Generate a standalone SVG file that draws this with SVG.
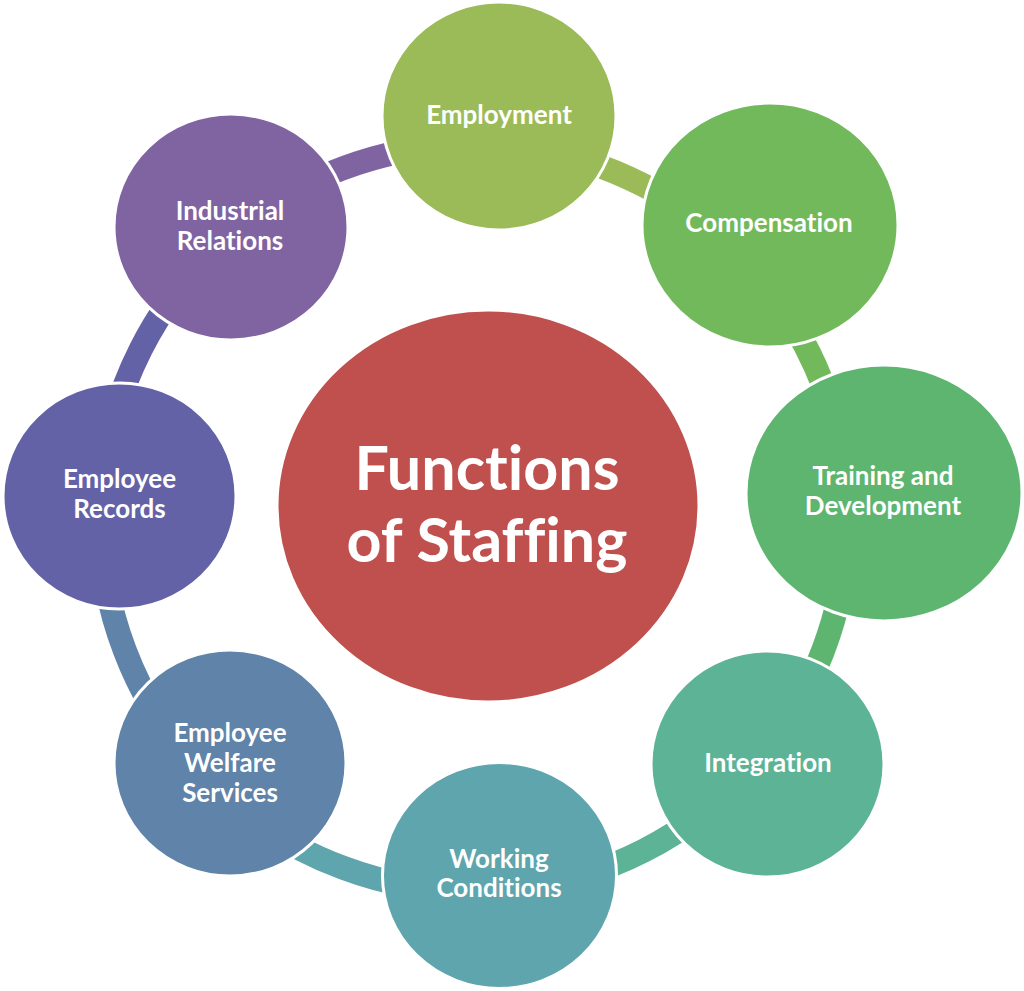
<svg xmlns="http://www.w3.org/2000/svg" width="1024" height="991" viewBox="0 0 1024 991">
  <style>
    .node { stroke: #ffffff; stroke-width: 3; }
    .lbl { font-family: Lato, "Open Sans", "Liberation Sans", sans-serif; font-weight: bold; font-size: 26px; fill: #ffffff; text-anchor: middle; font-variant-ligatures: none; }
    .big { font-family: Lato, "Open Sans", "Liberation Sans", sans-serif; font-weight: bold; font-size: 61px; fill: #ffffff; text-anchor: middle; font-variant-ligatures: none; }
    .conn { fill: none; stroke-width: 24; }
  </style>
  <rect width="1024" height="991" fill="#ffffff"/>
  <g id="connectors">
    <path class="conn" stroke="#9BBB59" d="M497.2,145.2 A373.5,373.5 0 0 1 739.9,255.7"/>
    <path class="conn" stroke="#72B95C" d="M739.9,255.7 A373.5,373.5 0 0 1 846.8,495.7"/>
    <path class="conn" stroke="#5DB56F" d="M846.8,495.7 A373.5,373.5 0 0 1 760.2,757.9"/>
    <path class="conn" stroke="#5DB396" d="M760.2,757.9 A373.5,373.5 0 0 1 500.6,890.6"/>
    <path class="conn" stroke="#5EA5AE" d="M500.6,890.6 A373.5,373.5 0 0 1 210.5,782.7"/>
    <path class="conn" stroke="#6083A9" d="M210.5,782.7 A373.5,373.5 0 0 1 101.2,494.9"/>
    <path class="conn" stroke="#6462A6" d="M101.2,494.9 A373.5,373.5 0 0 1 234.6,231.3"/>
    <path class="conn" stroke="#8064A2" d="M234.6,231.3 A373.5,373.5 0 0 1 497.2,145.2"/>
  </g>
  <g id="center">
    <ellipse class="node" cx="488" cy="506" rx="211" ry="196" fill="#C0504D"/>
    <text class="big" x="487" y="490">Functions</text>
    <text class="big" x="487" y="562">of Staffing</text>
  </g>
  <g id="employment">
    <ellipse class="node" cx="499" cy="116" rx="117" ry="114" fill="#9BBB59"/>
    <text class="lbl" x="499" y="124">Employment</text>
  </g>
  <g id="compensation">
    <ellipse class="node" cx="770" cy="225" rx="128" ry="122" fill="#72B95C"/>
    <text class="lbl" x="769" y="232">Compensation</text>
  </g>
  <g id="training">
    <ellipse class="node" cx="884" cy="493" rx="138" ry="128" fill="#5DB56F"/>
    <text class="lbl" x="883" y="485">Training and</text>
    <text class="lbl" x="883" y="515">Development</text>
  </g>
  <g id="integration">
    <ellipse class="node" cx="767.5" cy="764" rx="116.5" ry="113" fill="#5DB396"/>
    <text class="lbl" x="768" y="772">Integration</text>
  </g>
  <g id="working">
    <ellipse class="node" cx="499.5" cy="875.5" rx="117" ry="113" fill="#5EA5AE"/>
    <text class="lbl" x="499" y="868">Working</text>
    <text class="lbl" x="499" y="897">Conditions</text>
  </g>
  <g id="welfare">
    <ellipse class="node" cx="230" cy="763" rx="116" ry="113" fill="#6083A9"/>
    <text class="lbl" x="230" y="742">Employee</text>
    <text class="lbl" x="230" y="772">Welfare</text>
    <text class="lbl" x="230" y="802">Services</text>
  </g>
  <g id="records">
    <ellipse class="node" cx="119.5" cy="496" rx="116.5" ry="113" fill="#6462A6"/>
    <text class="lbl" x="119.5" y="488">Employee</text>
    <text class="lbl" x="119.5" y="518">Records</text>
  </g>
  <g id="industrial">
    <ellipse class="node" cx="231" cy="227" rx="117" ry="113" fill="#8064A2"/>
    <text class="lbl" x="230" y="220">Industrial</text>
    <text class="lbl" x="230" y="250">Relations</text>
  </g>
</svg>
